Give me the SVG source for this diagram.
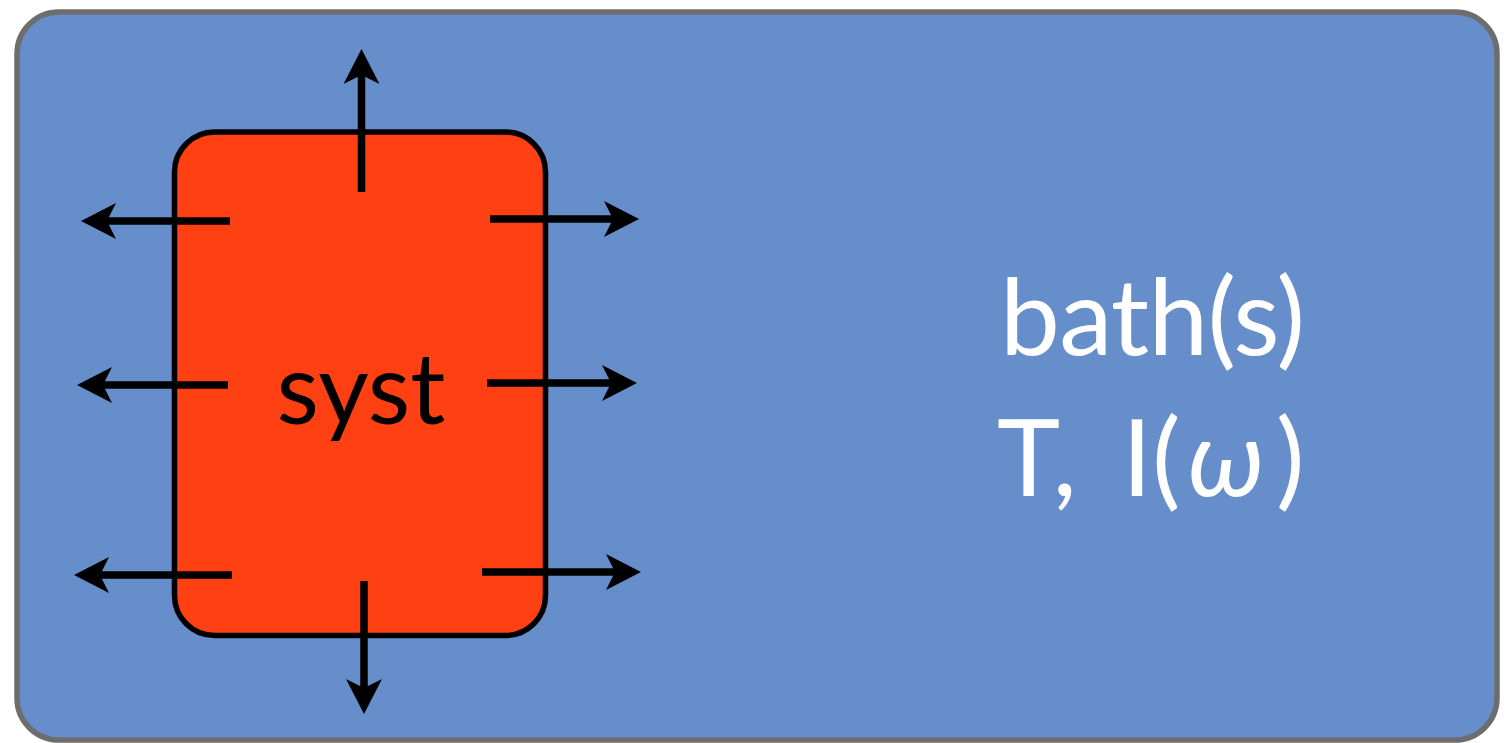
<svg xmlns="http://www.w3.org/2000/svg" width="1512" height="743" viewBox="0 0 1512 743">
  <style>
    .bath { fill: #668ecb; stroke: #6d6d6d; stroke-width: 5.5; }
    .syst { fill: #ff4013; stroke: #000000; stroke-width: 5.5; }
    .arrow { stroke: #000000; stroke-width: 7.5; fill: none; marker-end: url(#head); }
    .label { font-family: Lato, "Open Sans", "Liberation Sans", sans-serif; }
  </style>
  <defs>
    <marker id="head" markerUnits="userSpaceOnUse" viewBox="-10 -20 40 40" markerWidth="40" markerHeight="40" refX="0" refY="0" orient="auto">
      <path d="M26,0 L-9,-18 L0,0 L-9,18 Z" fill="#000000"/>
    </marker>
  </defs>
  <g id="bath">
    <rect class="bath" x="17" y="12" width="1480" height="728" rx="42" ry="42"/>
    <text class="label" x="1000" y="355" font-size="107" fill="#ffffff" textLength="305" lengthAdjust="spacing">bath(s)</text>
    <text class="label" y="496" font-size="107" fill="#ffffff"><tspan x="997">T,</tspan><tspan x="1122">I(</tspan><tspan x="1188" font-style="italic">ω</tspan><tspan x="1276">)</tspan></text>
  </g>
  <g id="system">
    <rect class="syst" x="174.5" y="132" width="371" height="503.5" rx="40" ry="40"/>
    <text class="label" x="361" y="424" font-size="98" fill="#000000" text-anchor="middle">syst</text>
  </g>
  <g id="connectors">
    <line class="arrow" x1="361.5" y1="192" x2="361.5" y2="75"/>
    <line class="arrow" x1="364" y1="581" x2="364" y2="688"/>
    <line class="arrow" x1="230" y1="221" x2="107" y2="221"/>
    <line class="arrow" x1="228" y1="385" x2="103" y2="385"/>
    <line class="arrow" x1="232" y1="575" x2="100" y2="575"/>
    <line class="arrow" x1="490" y1="219" x2="613" y2="219"/>
    <line class="arrow" x1="487" y1="383" x2="611" y2="383"/>
    <line class="arrow" x1="482" y1="572" x2="615" y2="572"/>
  </g>
</svg>
